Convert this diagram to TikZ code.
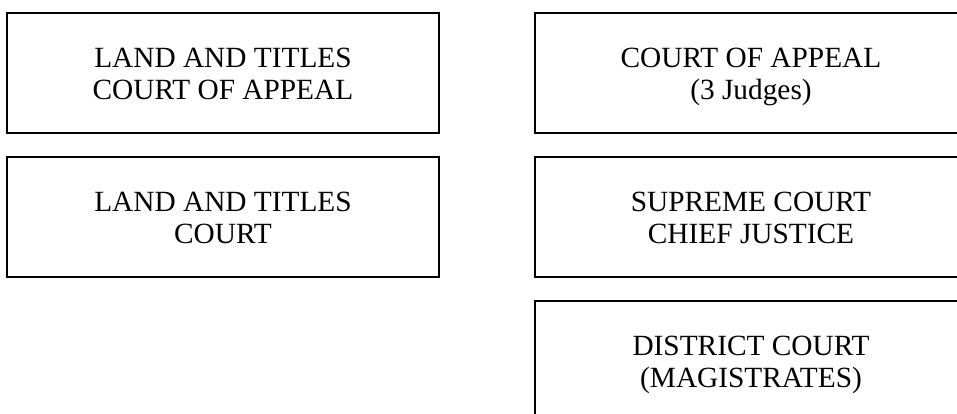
\documentclass[tikz,border=0pt]{standalone}
\usepackage{fontspec}
\setmainfont{Liberation Serif}
\newcommand{\topstrut}{\rule{0pt}{21pt}}
\newcommand{\botstrut}{\rule[-6pt]{0pt}{6pt}}
\begin{document}
\begin{tikzpicture}[x=0.75pt,y=-0.75pt,
  courtbox/.style={draw=black,line width=1.5pt,rectangle,minimum width=324pt,minimum height=90pt,
    align=center,inner sep=0pt,font=\fontsize{22pt}{24pt}\selectfont}]
\useasboundingbox (0,0) rectangle (957,414);
\begin{scope}
\clip (0,0) rectangle (957,414);
\node[courtbox] (ltca) at (223,73) {\topstrut LAND AND TITLES\\COURT OF APPEAL\botstrut};
\node[courtbox] (ltc) at (223,217) {\topstrut LAND AND TITLES\\COURT\botstrut};
\node[courtbox] (ca) at (751,73) {\topstrut COURT OF APPEAL\\(3 Judges)\botstrut};
\node[courtbox] (sc) at (751,217) {\topstrut SUPREME COURT\\CHIEF JUSTICE\botstrut};
\node[courtbox] (dc) at (751,361) {\topstrut DISTRICT COURT\\(MAGISTRATES)\botstrut};
\end{scope}
\end{tikzpicture}
\end{document}
